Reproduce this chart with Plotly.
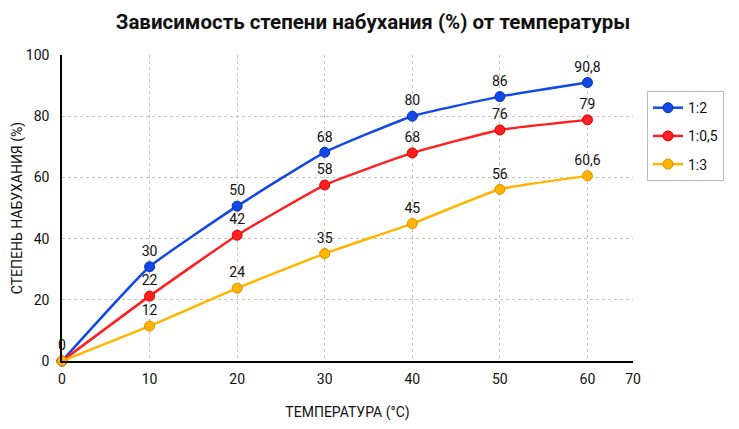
import plotly.graph_objects as go

temperature = [0, 10, 20, 30, 40, 50, 60]

series_names = ["1:2", "1:0,5", "1:3"]
swelling_12 = [0, 30.8, 50.6, 68.2, 80.0, 86.4, 91.0]
swelling_105 = [0, 21.2, 41.1, 57.5, 68.0, 75.5, 78.8]
swelling_13 = [0, 11.4, 23.8, 35.1, 44.9, 56.1, 60.5]

labels_12 = ["0", "30", "50", "68", "80", "86", "90,8"]
labels_105 = ["", "22", "42", "58", "68", "76", "79"]
labels_13 = ["", "12", "24", "35", "45", "56", "60,6"]

# the source chart squeezes the last interval: its right edge is labelled 70
x_edge = 65.2
x_tickvals = [0, 10, 20, 30, 40, 50, 60, x_edge]
x_ticktext = ["0", "10", "20", "30", "40", "50", "60", "70"]

font = "Roboto"

fig = go.Figure()

styles = [
    (swelling_12, labels_12, "#1248e6", "#0a32b0"),
    (swelling_105, labels_105, "#ff1f1f", "#d60000"),
    (swelling_13, labels_13, "#ffb400", "#e08c00"),
]

for name, (vals, labels, col, edge) in zip(series_names, styles):
    fig.add_trace(go.Scatter(
        x=temperature, y=vals, name=name, legendgroup=name,
        mode="lines+markers+text",
        text=labels, textposition="top center",
        textfont=dict(family=font, size=14, color="#111"),
        line=dict(color=col, width=2.5, shape="spline", smoothing=0.4),
        marker=dict(size=10, color=col, line=dict(color=edge, width=1)),
        cliponaxis=False,
    ))

# page body adds an 8px offset, so the figure is a bit smaller than the window
fig.update_layout(
    width=731, height=421,
    paper_bgcolor="white", plot_bgcolor="white",
    margin=dict(l=54, r=106, t=47, b=68),
    font=dict(family=font, size=14, color="#111"),
    title=dict(text="<b>Зависимость степени набухания (%) от температуры</b>",
               x=0.4993, xanchor="center", y=0.967, yanchor="middle",
               font=dict(family=font, size=20.5, color="#111")),
    legend=dict(x=1.0245, xanchor="left", y=0.882, yanchor="top",
                bordercolor="#bbbbbb", borderwidth=1,
                font=dict(family=font, size=14, color="#111"),
                itemwidth=30, tracegroupgap=7),
    showlegend=True,
)

fig.update_xaxes(
    range=[0, x_edge], tickvals=x_tickvals, ticktext=x_ticktext,
    automargin=False,
    showgrid=True, gridcolor="#c4c4c4", griddash="3px,3px", gridwidth=1,
    showline=True, linecolor="black", linewidth=1.5,
    zeroline=False, ticks="", ticklabelstandoff=4,
    title=dict(text="ТЕМПЕРАТУРА (°C)", standoff=22,
               font=dict(family=font, size=14)),
)
fig.update_yaxes(
    range=[0, 100], dtick=20, tick0=0, automargin=False,
    showgrid=True, gridcolor="#c4c4c4", griddash="3px,3px", gridwidth=1,
    showline=True, linecolor="black", linewidth=1.5,
    zeroline=False, ticks="", ticklabelstandoff=8,
    title=dict(text="СТЕПЕНЬ НАБУХАНИЯ (%)", standoff=0,
               font=dict(family=font, size=14)),
)

fig.write_html("out.html")
